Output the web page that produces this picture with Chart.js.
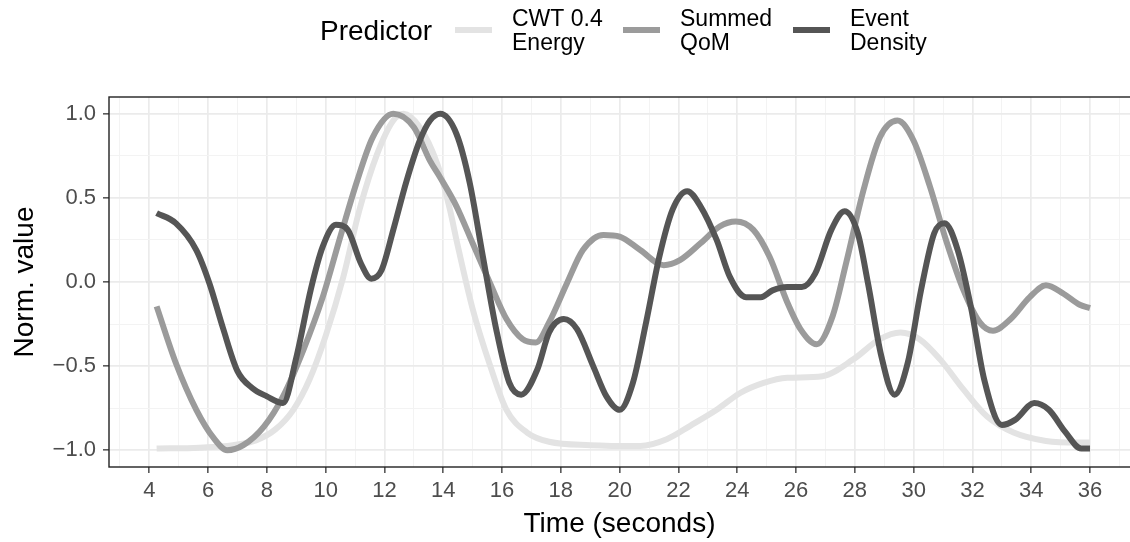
<!DOCTYPE html>
<html>
<head>
<meta charset="utf-8">
<title>Predictor time series</title>
<script src="https://cdn.jsdelivr.net/npm/chart.js@4"></script>
<style>
  html, body { margin: 0; padding: 0; background: #fff; }
  canvas { display: block; }
</style>
</head>
<body>
<canvas id="chart" width="1130" height="542"></canvas>
<script>
// values
const seriesNames = ['CWT 0.4\nEnergy', 'Summed\nQoM', 'Event\nDensity'];
const legendTitle = 'Predictor';

const cwtTime  = [4.25, 5.7, 6.85, 7.65, 8.3, 8.9, 9.45, 10.0, 10.6, 11.15, 11.75, 12.3, 12.65, 13.2, 13.8, 14.2, 14.5, 15.0, 15.6, 16.15, 16.85, 17.6, 19.0, 20.7, 21.6, 22.4, 23.3, 24.1, 24.9, 25.7, 26.9, 27.95, 28.85, 29.55, 30.2, 30.9, 31.7, 32.5, 33.4, 34.5, 35.6, 36.0];
const cwtValue = [-0.99, -0.985, -0.97, -0.94, -0.875, -0.76, -0.58, -0.32, 0.03, 0.43, 0.76, 0.96, 1.0, 0.92, 0.70, 0.45, 0.21, -0.16, -0.5, -0.76, -0.895, -0.95, -0.97, -0.975, -0.935, -0.855, -0.76, -0.66, -0.6, -0.57, -0.56, -0.46, -0.34, -0.30, -0.34, -0.46, -0.64, -0.80, -0.895, -0.945, -0.955, -0.955];

const qomTime  = [4.25, 4.9, 5.6, 6.2, 6.65, 7.2, 7.9, 8.55, 9.25, 9.9, 10.5, 11.05, 11.6, 12.3, 13.0, 13.55, 13.9, 14.45, 15.0, 15.6, 16.15, 16.7, 17.15, 17.6, 18.2, 18.75, 19.45, 20.0, 20.7, 21.5, 22.05, 22.75, 23.4, 23.95, 24.55, 25.1, 25.7, 26.15, 26.7, 27.25, 27.7, 28.3, 28.85, 29.45, 30.0, 30.55, 31.1, 31.7, 32.25, 32.7, 33.3, 33.95, 34.5, 35.1, 35.65, 36.0];
const qomValue = [-0.145, -0.48, -0.76, -0.93, -1.0, -0.97, -0.86, -0.68, -0.40, -0.09, 0.27, 0.59, 0.86, 1.0, 0.92, 0.72, 0.62, 0.45, 0.23, -0.01, -0.22, -0.34, -0.36, -0.24, -0.01, 0.19, 0.28, 0.27, 0.19, 0.10, 0.13, 0.23, 0.33, 0.36, 0.31, 0.15, -0.12, -0.28, -0.37, -0.2, 0.11, 0.55, 0.86, 0.96, 0.84, 0.57, 0.25, -0.05, -0.24, -0.29, -0.22, -0.09, -0.02, -0.07, -0.135, -0.155];

const densityTime  = [4.25, 4.9, 5.6, 6.05, 6.5, 7.0, 7.5, 8.0, 8.55, 9.0, 9.5, 9.9, 10.35, 10.75, 11.2, 11.55, 11.9, 12.3, 12.75, 13.2, 13.55, 13.9, 14.45, 14.9, 15.35, 15.8, 16.25, 16.65, 17.2, 17.6, 18.1, 18.55, 19.1, 19.55, 20.0, 20.45, 20.9, 21.35, 21.8, 22.3, 22.75, 23.3, 23.75, 24.3, 24.8, 25.2, 25.7, 26.2, 26.65, 27.2, 27.65, 28.1, 28.45, 28.9, 29.35, 29.8, 30.25, 30.7, 31.05, 31.5, 31.95, 32.4, 33.0, 33.45, 34.1, 34.6, 35.15, 35.7, 36.0];
const densityValue = [0.41, 0.35, 0.19, -0.01, -0.27, -0.53, -0.63, -0.68, -0.72, -0.45, -0.04, 0.21, 0.34, 0.31, 0.11, 0.02, 0.07, 0.31, 0.6, 0.84, 0.96, 1.0, 0.88, 0.59, 0.15, -0.28, -0.6, -0.67, -0.52, -0.30, -0.22, -0.28, -0.5, -0.68, -0.76, -0.6, -0.24, 0.15, 0.43, 0.54, 0.45, 0.25, 0.03, -0.09, -0.09, -0.05, -0.03, -0.03, 0.05, 0.31, 0.42, 0.29, -0.01, -0.44, -0.67, -0.48, -0.05, 0.29, 0.35, 0.19, -0.15, -0.58, -0.85, -0.82, -0.72, -0.76, -0.89, -0.99, -0.99];

const xMajorTicks = [4, 6, 8, 10, 12, 14, 16, 18, 20, 22, 24, 26, 28, 30, 32, 34, 36];
const xMinorTicks = [3, 5, 7, 9, 11, 13, 15, 17, 19, 21, 23, 25, 27, 29, 31, 33, 35, 37];
const yMajorTicks = [-1, -0.5, 0, 0.5, 1];
const yMinorTicks = [-0.75, -0.25, 0.25, 0.75];

const lineColors = ['#e3e3e3', '#9b9b9b', '#555555'];

const FONT = '"Liberation Sans", Arial, Helvetica, sans-serif';

function toPoints(xs, ys) {
  return xs.map((x, i) => ({ x: x, y: ys[i] }));
}

const isMajorX = v => xMajorTicks.includes(v);
const isMajorY = v => yMajorTicks.some(t => Math.abs(t - v) < 1e-9);

function setTicks(list) {
  return scale => {
    scale.ticks = list.slice().sort((a, b) => a - b).map(v => ({ value: v }));
  };
}

// legend on top, ggplot style (title + line keys + two-line labels)
const ggLegend = {
  id: 'ggLegend',
  afterDraw(chart) {
    const ctx = chart.ctx;
    ctx.save();
    ctx.fillStyle = '#000';
    ctx.textBaseline = 'alphabetic';
    ctx.font = '28px ' + FONT;
    ctx.fillText(legendTitle, 320, 40);
    const keyX = [455, 623, 793];
    ctx.font = '23px ' + FONT;
    seriesNames.forEach((name, i) => {
      ctx.strokeStyle = lineColors[i];
      ctx.lineWidth = 6;
      ctx.lineCap = 'butt';
      ctx.beginPath();
      ctx.moveTo(keyX[i], 30);
      ctx.lineTo(keyX[i] + 37, 30);
      ctx.stroke();
      name.split('\n').forEach((ln, j) => {
        ctx.fillText(ln, keyX[i] + 57, 26 + j * 24);
      });
    });
    ctx.restore();
  }
};

// panel border, drawn above the lines
const panelBorder = {
  id: 'panelBorder',
  afterDatasetsDraw(chart) {
    const a = chart.chartArea;
    const ctx = chart.ctx;
    ctx.save();
    ctx.strokeStyle = '#222222';
    ctx.lineWidth = 1.4;
    ctx.strokeRect(a.left, a.top, a.right - a.left + 5, a.bottom - a.top);
    ctx.restore();
  }
};

new Chart(document.getElementById('chart'), {
  type: 'line',
  data: {
    datasets: [
      { label: 'Event Density', data: toPoints(densityTime, densityValue), borderColor: lineColors[2], order: 1 },
      { label: 'Summed QoM', data: toPoints(qomTime, qomValue), borderColor: lineColors[1], order: 2 },
      { label: 'CWT 0.4 Energy', data: toPoints(cwtTime, cwtValue), borderColor: lineColors[0], order: 3 }
    ]
  },
  options: {
    responsive: false,
    animation: false,
    devicePixelRatio: 1,
    layout: { padding: { top: 97, left: 0, right: 0, bottom: 0 } },
    elements: {
      point: { radius: 0 },
      line: { borderWidth: 6, cubicInterpolationMode: 'monotone', borderCapStyle: 'butt', borderJoinStyle: 'round', fill: false }
    },
    plugins: {
      legend: { display: false },
      tooltip: { enabled: false }
    },
    scales: {
      x: {
        type: 'linear',
        min: 2.63,
        max: 37.36,
        afterBuildTicks: setTicks(xMajorTicks.concat(xMinorTicks)),
        afterFit: s => { s.height = 75; },
        border: { display: false },
        grid: {
          color: c => isMajorX(c.tick.value) ? '#ebebeb' : '#f3f3f3',
          lineWidth: c => isMajorX(c.tick.value) ? 1.7 : 1,
          tickColor: c => isMajorX(c.tick.value) ? '#333333' : 'rgba(0,0,0,0)',
          tickWidth: 1.3,
          tickLength: 6
        },
        ticks: {
          autoSkip: false,
          maxRotation: 0,
          padding: 5,
          color: '#4d4d4d',
          font: { family: FONT, size: 22 },
          callback: v => isMajorX(v) ? String(v) : ''
        },
        title: {
          display: true,
          text: 'Time (seconds)',
          color: '#000',
          font: { family: FONT, size: 28 },
          padding: { top: 0, bottom: 1 }
        }
      },
      y: {
        type: 'linear',
        min: -1.1,
        max: 1.1,
        afterBuildTicks: setTicks(yMajorTicks.concat(yMinorTicks)),
        afterFit: s => { s.width = 109; },
        border: { display: false },
        grid: {
          color: c => isMajorY(c.tick.value) ? '#ebebeb' : '#f3f3f3',
          lineWidth: c => isMajorY(c.tick.value) ? 1.7 : 1,
          tickColor: c => isMajorY(c.tick.value) ? '#333333' : 'rgba(0,0,0,0)',
          tickWidth: 1.3,
          tickLength: 6
        },
        ticks: {
          autoSkip: false,
          padding: 7,
          color: '#4d4d4d',
          font: { family: FONT, size: 22 },
          callback: v => isMajorY(v) ? v.toFixed(1).replace('-', '\u2212') : ''
        },
        title: {
          display: true,
          text: 'Norm. value',
          color: '#000',
          font: { family: FONT, size: 28 },
          padding: { top: 8, bottom: 0 }
        }
      }
    }
  },
  plugins: [ggLegend, panelBorder]
});
</script>
</body>
</html>
